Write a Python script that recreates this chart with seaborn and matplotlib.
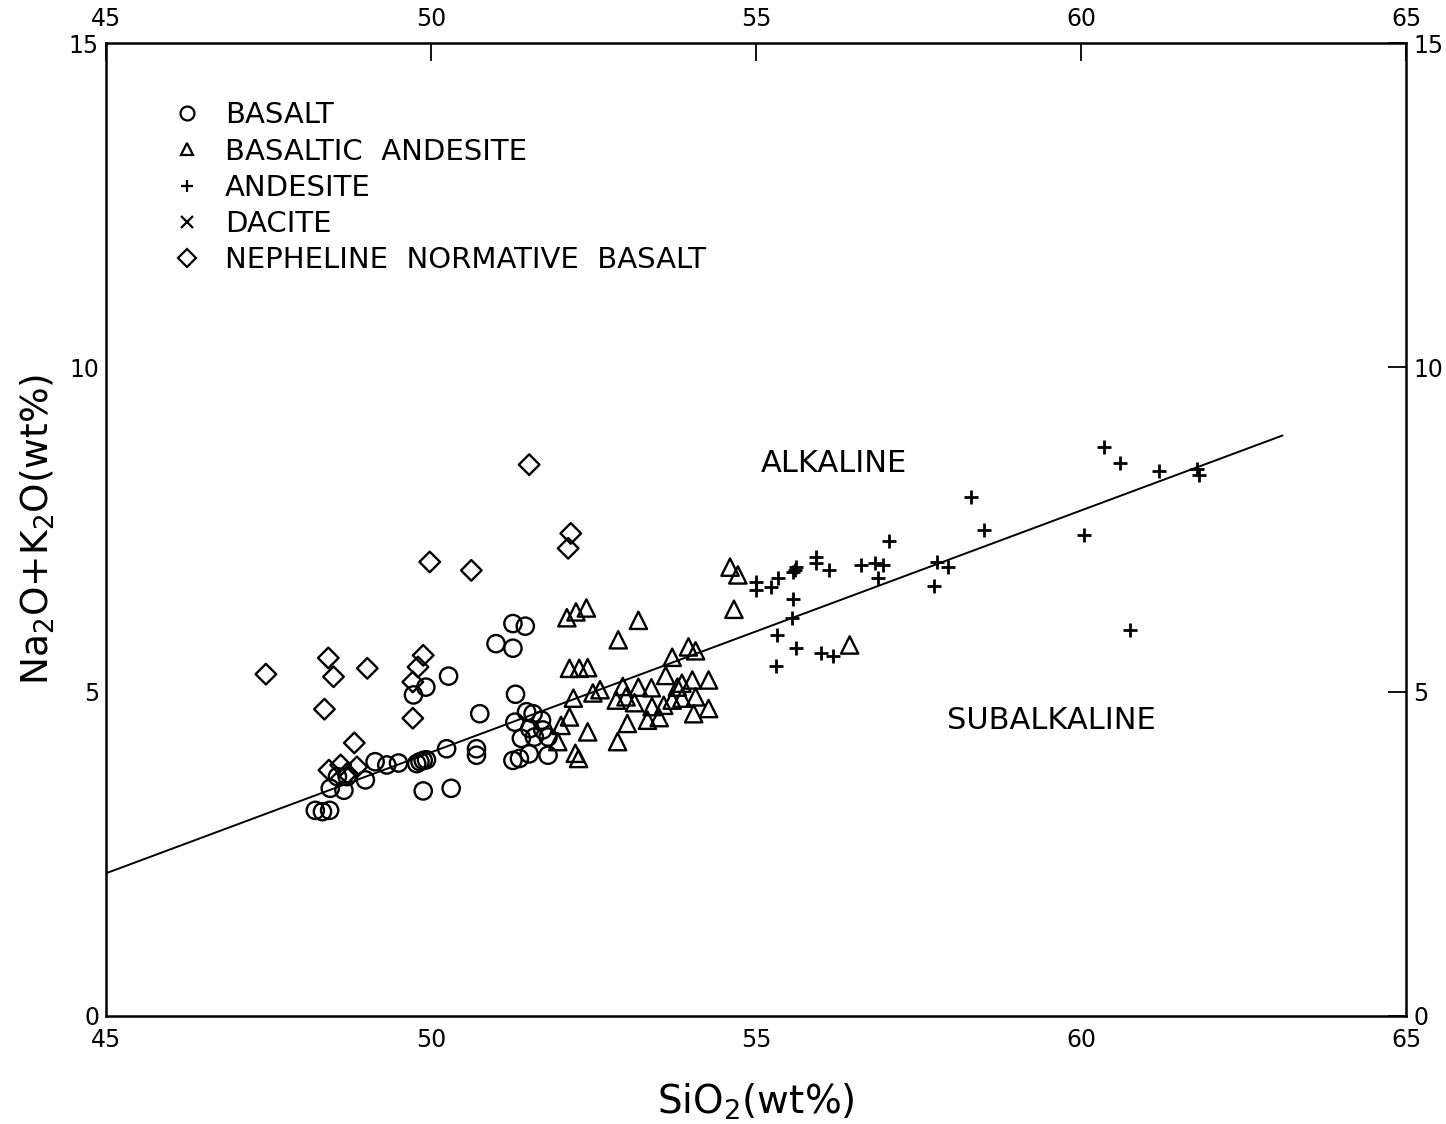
import numpy as np
import pandas as pd
import matplotlib
matplotlib.use("Agg")
import matplotlib.pyplot as plt
import seaborn as sns
from matplotlib.lines import Line2D

# ---------------- data (SiO2 wt%, Na2O+K2O wt%) ----------------
basalt_x = [51.00, 51.26, 51.26, 51.45, 50.27, 49.92, 49.73, 51.30, 50.75,
            51.47, 51.57, 51.29, 51.70, 51.52, 51.39, 51.59, 51.80, 51.72,
            51.26, 51.36, 51.51, 51.80, 50.70, 50.70, 50.24,
            49.83, 49.78, 49.88, 49.93, 49.50, 49.32, 49.14, 48.99,
            48.66, 48.45, 48.71, 48.56, 49.88, 50.31, 48.22, 48.33, 48.44]
basalt_y = [5.74, 5.67, 6.05, 6.01, 5.24, 5.07, 4.95, 4.96, 4.66,
            4.69, 4.66, 4.53, 4.56, 4.43, 4.28, 4.30, 4.30, 4.41,
            3.94, 3.97, 4.04, 4.02, 4.12, 4.02, 4.12,
            3.92, 3.89, 3.94, 3.95, 3.90, 3.87, 3.92, 3.64,
            3.48, 3.51, 3.69, 3.69, 3.47, 3.51, 3.17, 3.15, 3.17]

bas_andesite_x = [52.09, 52.23, 52.39, 53.19, 52.88, 54.66, 54.60, 54.72,
                  52.13, 52.28, 52.41, 53.96, 54.07, 53.71, 53.61,
                  53.79, 53.86, 54.02, 54.27, 52.95, 53.19, 53.39,
                  52.85, 53.00, 53.13, 53.40, 53.58, 53.71, 53.86, 54.07,
                  52.19, 52.49, 52.60, 53.33, 53.51, 54.04, 54.27,
                  53.02, 52.13, 52.00, 52.41, 51.95, 52.87, 52.22, 52.27, 56.44]
bas_andesite_y = [6.14, 6.23, 6.29, 6.10, 5.80, 6.27, 6.92, 6.80,
                  5.36, 5.36, 5.37, 5.69, 5.63, 5.53, 5.25,
                  5.07, 5.13, 5.18, 5.18, 5.08, 5.07, 5.06,
                  4.87, 4.92, 4.83, 4.77, 4.79, 4.87, 4.90, 4.92,
                  4.90, 4.98, 5.03, 4.56, 4.60, 4.66, 4.74,
                  4.51, 4.61, 4.48, 4.38, 4.23, 4.23, 4.05, 3.97, 5.72]

andesite_x = [55.00, 55.00, 55.23, 55.34, 55.60, 55.62, 55.57, 55.93, 55.93,
              56.12, 56.61, 56.83, 56.95, 56.87, 57.04, 57.79, 57.95, 57.74,
              55.57, 55.55, 55.33, 55.62, 56.00, 56.19, 55.30,
              60.36, 60.60, 61.20, 61.79, 61.82, 58.30, 58.51, 60.04, 60.75]
andesite_y = [6.69, 6.56, 6.62, 6.76, 6.88, 6.92, 6.85, 7.08, 6.98,
              6.88, 6.95, 6.98, 6.95, 6.76, 7.33, 7.00, 6.92, 6.63,
              6.43, 6.14, 5.87, 5.67, 5.59, 5.55, 5.40,
              8.77, 8.53, 8.40, 8.44, 8.34, 8.00, 7.49, 7.41, 5.95]

dacite_x = []
dacite_y = []

neph_x = [48.42, 48.50, 49.02, 49.88, 49.80, 49.72, 48.36, 49.72, 48.82,
          48.43, 48.61, 48.86, 48.71, 47.46, 51.51, 52.15, 52.11, 49.98, 50.62]
neph_y = [5.52, 5.23, 5.36, 5.56, 5.38, 5.15, 4.73, 4.59, 4.21,
          3.79, 3.87, 3.84, 3.74, 5.27, 8.50, 7.44, 7.21, 7.00, 6.87]

# dividing line (alkaline / subalkaline)
line_x = [45.0, 63.1]
line_y = [2.2, 8.95]

legend_labels = ["BASALT", "BASALTIC  ANDESITE", "ANDESITE", "DACITE",
                 "NEPHELINE  NORMATIVE  BASALT"]
x_ticks = [45, 50, 55, 60, 65]
y_ticks = [0, 5, 10, 15]

# ---------------- plot ----------------
sns.set_style("white")
plt.rcParams['font.family'] = ['DejaVu Sans']
plt.rcParams['text.color'] = 'black'
plt.rcParams['axes.labelcolor'] = 'black'

fig = plt.figure(figsize=(14.46, 11.24), dpi=100)
ax = fig.add_axes([0.0733, 0.0961, 0.8991, 0.8656])

mk_s = 155
lw = 1.7
sns.lineplot(x=line_x, y=line_y, ax=ax, color="black", linewidth=1.4)
sns.scatterplot(x=basalt_x, y=basalt_y, ax=ax, marker="o", s=mk_s,
                facecolors="none", edgecolor="black", linewidth=lw)
sns.scatterplot(x=bas_andesite_x, y=bas_andesite_y, ax=ax, marker="^", s=mk_s,
                facecolors="none", edgecolor="black", linewidth=lw)
sns.scatterplot(x=andesite_x, y=andesite_y, ax=ax, marker="+", s=110,
                color="black", linewidth=2.0)
if len(dacite_x):
    sns.scatterplot(x=dacite_x, y=dacite_y, ax=ax, marker="x", s=90,
                    color="black", linewidth=2.0)
sns.scatterplot(x=neph_x, y=neph_y, ax=ax, marker="D", s=110,
                facecolors="none", edgecolor="black", linewidth=lw)

ax.set_xlim(x_ticks[0], x_ticks[-1])
ax.set_ylim(y_ticks[0], y_ticks[-1])
ax.set_xticks(x_ticks)
ax.set_yticks(y_ticks)
ax.tick_params(axis="both", which="both", direction="in", length=13, width=1.3,
               top=True, right=True, labeltop=True, labelright=True,
               labelsize=17, color="black", labelcolor="black")
ax.tick_params(axis="x", pad=9)
ax.tick_params(axis="y", pad=5)
for sp in ax.spines.values():
    sp.set_visible(True)
    sp.set_color("black")
    sp.set_linewidth(1.8)

ax.set_xlabel("SiO$_2$(wt%)", fontsize=28, color="black")
ax.xaxis.set_label_coords(0.5, -0.068)
ax.set_ylabel("Na$_2$O+K$_2$O(wt%)", fontsize=27, color="black")
ax.yaxis.set_label_coords(-0.038, 0.5)

ax.text(56.2, 8.52, "ALKALINE", fontsize=22, ha="center", va="center",
        color="black")
ax.text(59.55, 4.56, "SUBALKALINE", fontsize=22, ha="center", va="center",
        color="black")

handles = [
    Line2D([], [], marker="o", linestyle="none", markersize=10,
           markerfacecolor="none", markeredgecolor="black", markeredgewidth=1.6),
    Line2D([], [], marker="^", linestyle="none", markersize=9,
           markerfacecolor="none", markeredgecolor="black", markeredgewidth=1.6),
    Line2D([], [], marker="+", linestyle="none", markersize=9,
           color="black", markeredgewidth=1.6),
    Line2D([], [], marker="x", linestyle="none", markersize=8,
           color="black", markeredgewidth=1.6),
    Line2D([], [], marker="D", linestyle="none", markersize=9,
           markerfacecolor="none", markeredgecolor="black", markeredgewidth=1.6),
]
leg = ax.legend(handles, legend_labels, loc="upper left",
                bbox_to_anchor=(0.04, 0.952), frameon=False, fontsize=21,
                handletextpad=0.7, labelspacing=0.28, handlelength=1.2,
                borderaxespad=0)
for t in leg.get_texts():
    t.set_color("black")

fig.savefig("out.png", dpi=100, facecolor="white")
